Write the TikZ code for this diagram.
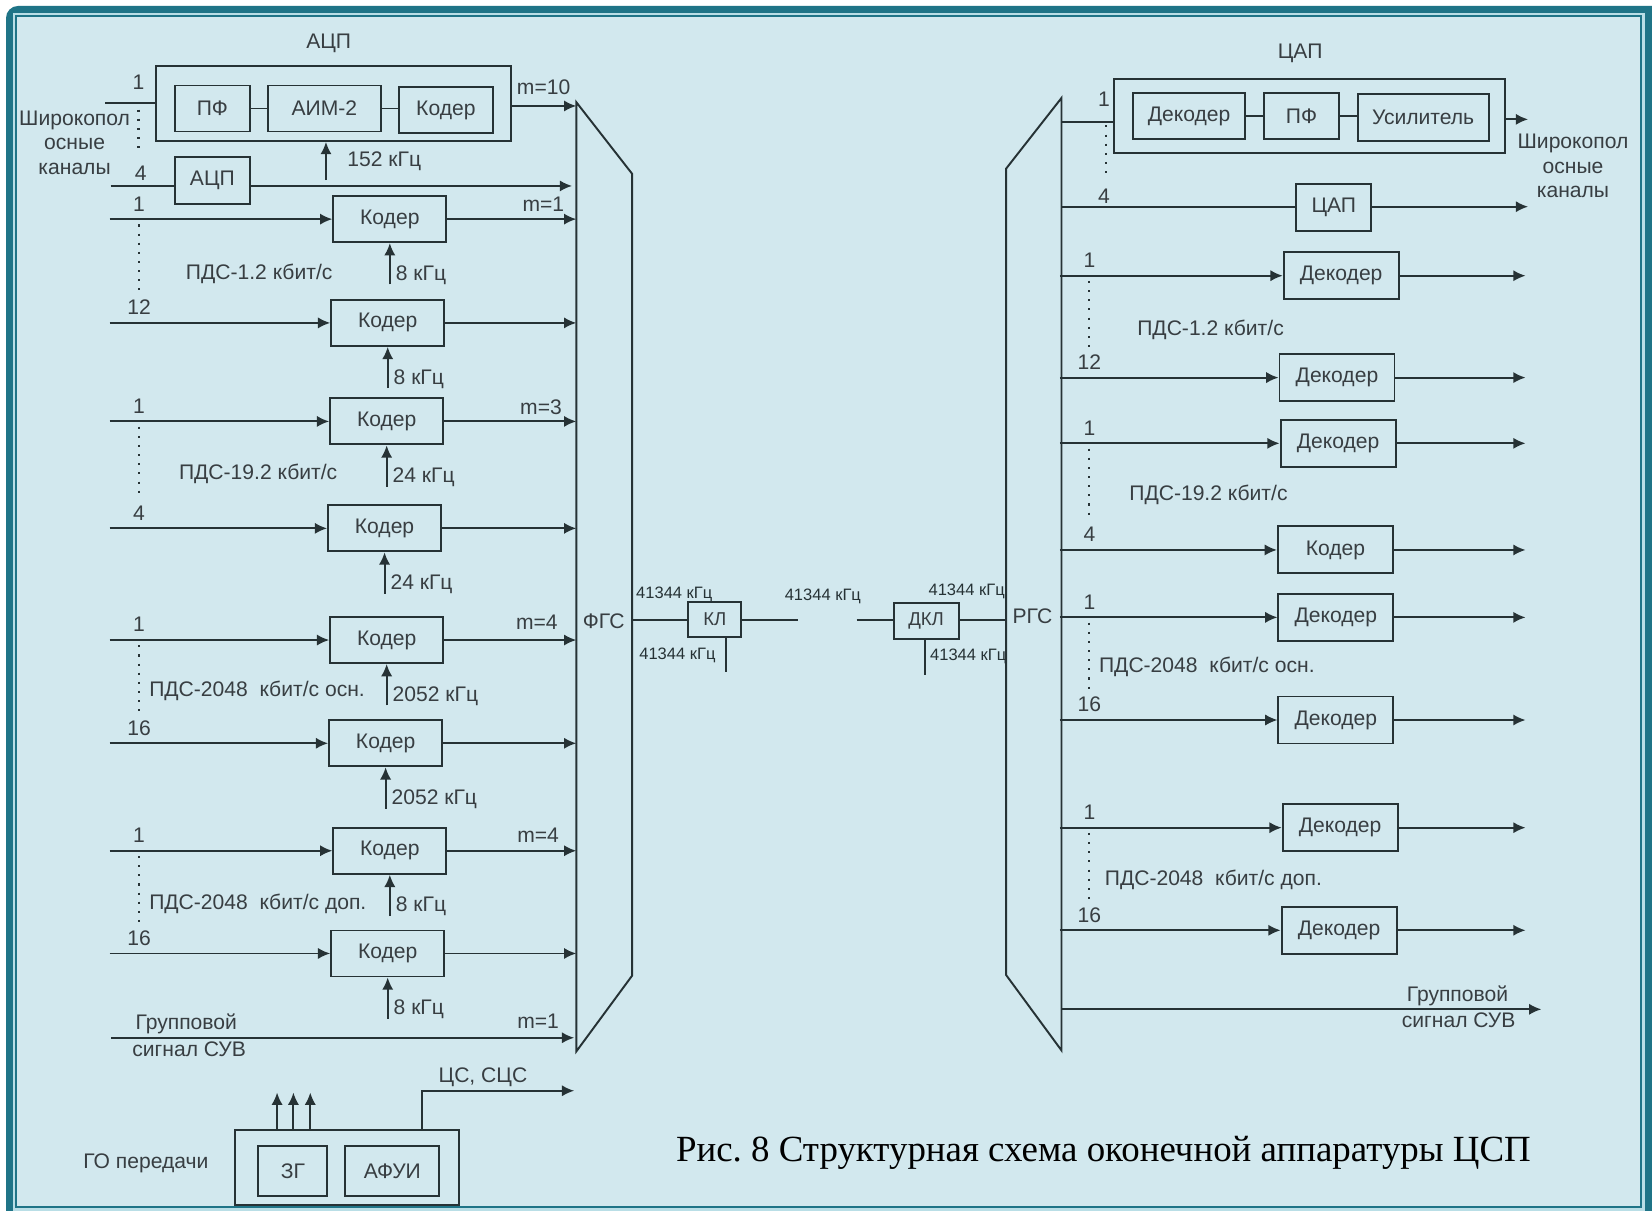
\documentclass[tikz,border=0pt]{standalone}
\usepackage{fontspec}
\setmainfont{Liberation Sans}
\newfontfamily\capfont{Liberation Serif}
\usetikzlibrary{arrows.meta}

\definecolor{sheet}{HTML}{D2E8EE}
\definecolor{rim}{HTML}{1F7487}
\definecolor{rimlight}{HTML}{B9DEE6}
\definecolor{ink}{HTML}{263235}
\definecolor{txt}{HTML}{383E42}

\begin{document}
\begin{tikzpicture}[x=0.10536mm, y=-0.10536mm,
  box/.style={draw=ink, line width=0.55pt, minimum width=#1, minimum height=4.6mm, inner sep=0pt, font=\fontsize{6}{7}\selectfont, text=txt},
  box/.default=11.3mm,
  lbl/.style={font=\fontsize{6}{7}\selectfont, text=txt, inner sep=0pt},
  tiny/.style={font=\fontsize{4.7}{5.5}\selectfont, text=ink, inner sep=0pt},
  wire/.style={draw=ink, line width=0.55pt},
  sig/.style={wire, -{Latex[length=3.5pt, width=3.2pt]}},
  dots/.style={draw=ink, line width=0.6pt, dotted}]

\path[use as bounding box] (0,0) rectangle (1568,1149);
\clip (0,0) rectangle (1568,1149);
\fill[white] (0,0) rectangle (1568,1149);
\fill[rim, rounded corners=1.2mm] (5.7,5.7) rectangle (1600,1180);
\fill[rimlight] (12.3,12.3) rectangle (1561.5,1160);
\filldraw[fill=sheet, draw=rim, line width=0.6pt] (15.2,15.2) rectangle (1557.5,1145.5);

\draw[wire] (547,97) -- (600,165) -- (600,926) -- (547,998) -- cycle;
\node[lbl] (fgsT) at (573,590) {ФГС};
\draw[wire] (1007.5,93) -- (955,160) -- (955,925.5) -- (1007.5,997) -- cycle;
\node[lbl] (rgsT) at (980,585) {РГС};

\node[lbl] (adcT) at (312,41) {АЦП};
\node[box=35.5mm, minimum height=7.5mm] (adc) at (316.5,98.2) {};
\node[box=7.5mm] (pf) at (201.6,103) {ПФ};
\node[box=11.3mm] (aim) at (307.8,103) {АИМ-2};
\node[box=9.4mm] (kodA) at (423.2,104.5) {Кодер};
\draw[wire] (pf.east) -- (aim.west);
\draw[wire] (aim.east) -- (kodA.west |- aim.east);
\coordinate (wb1) at (100,98);
\coordinate (fgs0) at (547,100.6);
\coordinate (clkA) at (309.4,171);
\draw[wire] (wb1) -- (wb1 -| adc.west);
\draw[sig] (fgs0 -| adc.east) -- (fgs0);
\draw[sig] (clkA) -- (clkA |- adc.south);
\node[lbl] (m0) at (516,83) {m=10};
\node[lbl, anchor=south] (n0) at (131.5,86) {1};
\node[lbl, anchor=west] (fqA) at (329,153.5) {152 кГц};
\draw[dots] (131.5,104) -- (131.5,147);
\node[lbl, align=center] (wbL) at (70.8,135.4) {Широкопол\\осные\\каналы};

\node[box=7.5mm, minimum height=4.7mm] (adc4) at (201.6,171) {АЦП};
\coordinate (wb4) at (105,176.5);
\coordinate (fgsA) at (543,176.5);
\draw[wire] (wb4) -- (wb4 -| adc4.west);
\draw[sig] (wb4 -| adc4.east) -- (fgsA);
\node[lbl, anchor=south] (n4) at (133.7,172) {4};

\foreach \i/\y/\cx/\n/\f in {1/208/370/1/8, 2/306.5/368/12/8, 3/400/367/1/24, 4/501.5/365/4/24, 5/607.5/367/1/2052, 6/705.5/366/16/2052, 7/807.5/370/1/8, 8/905/368/16/8}{
  \node[box] (kod\i) at (\cx,\y) {Кодер};
  \coordinate (in\i) at (104,\y);
  \coordinate (fgs\i) at (547,\y);
  \coordinate (clk\i) at (\cx,\y+62);
  \draw[sig] (in\i) -- (kod\i);
  \draw[sig] (kod\i) -- (fgs\i);
  \draw[sig] (clk\i) -- (kod\i);
  \node[lbl, anchor=south] (num\i) at (132,\y-7) {\n};
  \node[lbl, anchor=west] (fq\i) at (\cx+5,\y+53) {\f~кГц};
}
\foreach \a/\b in {1/2,3/4,5/6,7/8}
  \draw[dots] (in\a -| 132,0) ++(0,5) -- ([yshift=3.1mm]in\b -| 132,0);

\node[lbl] (m1) at (515.7,193.6) {m=1};
\node[lbl] (m3) at (513.5,386.6) {m=3};
\node[lbl] (m5) at (509.6,591) {m=4};
\node[lbl] (m7) at (510.8,792.6) {m=4};
\node[lbl] (pds1) at (246,260) {ПДС-1.2 кбит/с};
\node[lbl] (pds3) at (245,450) {ПДС-19.2 кбит/с};
\node[lbl, anchor=west] (pds5) at (141,655.5) {ПДС-2048\ \ кбит/с осн.};
\node[lbl, anchor=west] (pds7) at (141,858) {ПДС-2048\ \ кбит/с доп.};

\coordinate (suvIn) at (105.5,985);
\coordinate (fgsG) at (545,985);
\draw[sig] (suvIn) -- (fgsG);
\node[lbl, anchor=west] (suv1) at (128,972) {Групповой};
\node[lbl, anchor=west] (suv2) at (125,995.7) {сигнал СУВ};
\node[lbl] (mG) at (510.8,969) {m=1};

\node[box=22.4mm, minimum height=7.5mm] (go) at (329.7,1108.5) {};
\node[box=6.9mm, minimum height=5mm] (zg) at (278,1111.5) {ЗГ};
\node[box=9.4mm, minimum height=5mm] (afui) at (372.4,1111.5) {АФУИ};
\node[lbl] (goT) at (138.5,1104) {ГО передачи};
\foreach \k/\xx in {1/263,2/278.5,3/294.5}{
  \coordinate (goup\k) at (\xx,1037);
  \draw[sig] (goup\k |- go.north) -- (goup\k);
}
\coordinate (cscB) at (400.6,1035.3);
\coordinate (csc) at (545,1035.3);
\draw[sig] (cscB |- go.north) -- (cscB) -- (csc);
\node[lbl] (cscT) at (458.4,1022) {ЦС, СЦС};

\node[box=5.3mm, minimum height=3.5mm, font=\fontsize{5.3}{6}\selectfont] (kl) at (678.5,588) {КЛ};
\node[box=6.5mm, minimum height=3.6mm, font=\fontsize{5.3}{6}\selectfont] (dkl) at (879,589) {ДКЛ};
\coordinate (fgsR) at (600,588.5);
\coordinate (lnA) at (757,588.5);
\coordinate (lnB) at (813,588.5);
\coordinate (rgsL) at (955,588.5);
\coordinate (klT) at (688.8,638);
\coordinate (dklT) at (878,641);
\draw[wire] (fgsR) -- (fgsR -| kl.west);
\draw[wire] (lnA -| kl.east) -- (lnA);
\draw[wire] (lnB) -- (lnB -| dkl.west);
\draw[wire] (rgsL -| dkl.east) -- (rgsL);
\draw[wire] (klT |- kl.south) -- (klT);
\draw[wire] (dklT |- dkl.south) -- (dklT);
\node[tiny] (f1) at (640,564) {41344 кГц};
\node[tiny] (f2) at (643,622) {41344 кГц};
\node[tiny] (f3) at (781,566) {41344 кГц};
\node[tiny] (f4) at (917.5,561.6) {41344 кГц};
\node[tiny] (f5) at (919,622.6) {41344 кГц};

\node[lbl] (dacT) at (1234,50.6) {ЦАП};
\node[box=39.1mm, minimum height=7.4mm] (dac) at (1243.2,110.3) {};
\node[box=11.2mm] (dekA) at (1128.7,110.2) {Декодер};
\node[box=7.5mm] (pfB) at (1235.3,110.2) {ПФ};
\node[box=13.1mm, minimum height=4.7mm] (amp) at (1350.7,111.7) {Усилитель};
\draw[wire] (dekA.east) -- (pfB.west);
\draw[wire] (pfB.east) -- (amp.west |- pfB.east);
\coordinate (rgs0) at (1007.5,115.5);
\coordinate (wbOut1) at (1450.4,113.3);
\draw[wire] (rgs0) -- (rgs0 -| dac.west);
\draw[sig] (wbOut1 -| dac.east) -- (wbOut1);
\node[lbl, anchor=south] (r0) at (1047.8,102) {1};
\draw[dots] (1049.8,119) -- (1049.8,171);
\node[box=7.5mm, minimum height=4.7mm] (dac4) at (1266,197) {ЦАП};
\coordinate (rgsA) at (1007.5,196.2);
\coordinate (wbOut4) at (1450.4,196.2);
\draw[wire] (rgsA) -- (rgsA -| dac4.west);
\draw[sig] (rgsA -| dac4.east) -- (wbOut4);
\node[lbl, anchor=south] (r4) at (1047.8,194) {4};
\node[lbl, align=center] (wbR) at (1493,157.5) {Широкопол\\осные\\каналы};

\foreach \i/\y/\cx/\n/\t in {1/261.7/1273/1/Декодер, 2/358.4/1269/12/Декодер, 3/420.8/1270/1/Декодер, 4/522/1267.5/4/Кодер, 5/586/1268/1/Декодер, 6/683.4/1268/16/Декодер, 7/785.6/1272/1/Декодер, 8/883/1271/16/Декодер}{
  \node[box=11.5mm, minimum height=4.7mm] (dek\i) at (\cx,\y) {\t};
  \coordinate (rgs\i) at (1006,\y);
  \coordinate (out\i) at (1448,\y);
  \draw[sig] (rgs\i) -- (dek\i);
  \draw[sig] (dek\i) -- (out\i);
  \node[lbl, anchor=south] (rn\i) at (1034,\y-7) {\n};
}
\foreach \a/\b in {1/2,3/4,5/6,7/8}
  \draw[dots] (rgs\a -| 1034,0) ++(0,5) -- ([yshift=3.1mm]rgs\b -| 1034,0);

\node[lbl] (rpds1) at (1149,313) {ПДС-1.2 кбит/с};
\node[lbl] (rpds3) at (1147,470) {ПДС-19.2 кбит/с};
\node[lbl, anchor=west] (rpds5) at (1042.5,633) {ПДС-2048\ \ кбит/с осн.};
\node[lbl, anchor=west] (rpds7) at (1048,835) {ПДС-2048\ \ кбит/с доп.};

\coordinate (rgsG) at (1008,958);
\coordinate (suvOut) at (1463,958);
\draw[sig] (rgsG) -- (suvOut);
\node[lbl] (rsuv1) at (1383.3,945.4) {Групповой};
\node[lbl] (rsuv2) at (1384.5,968.8) {сигнал СУВ};

\node[font=\capfont\fontsize{10.5}{12}\selectfont\frenchspacing, inner sep=0pt, anchor=west] (cap) at (641,1094.7) {Рис. 8 Структурная схема оконечной аппаратуры ЦСП};

\end{tikzpicture}
\end{document}
